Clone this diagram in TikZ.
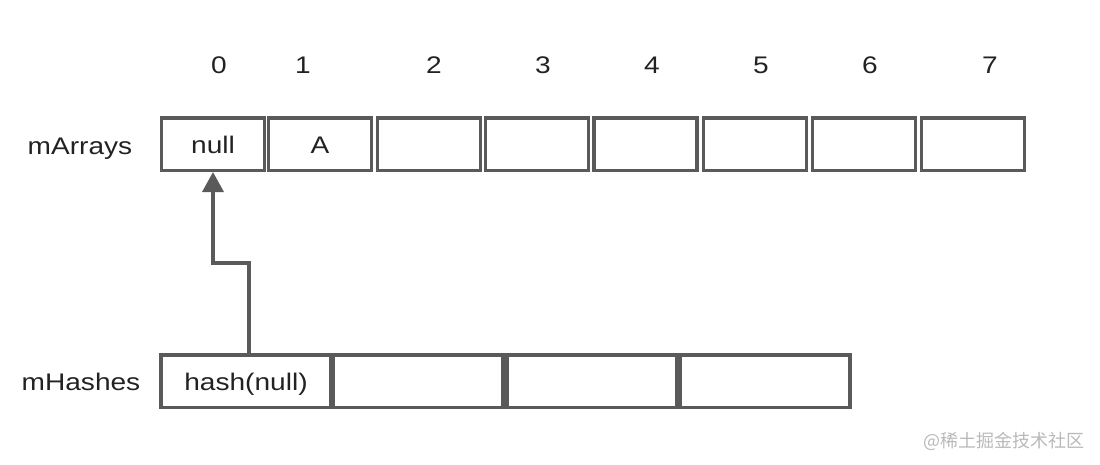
\documentclass[tikz,border=0pt]{standalone}
\usepackage{fontspec}
\setmainfont{Liberation Sans}[FakeStretch=1.17]
\newfontfamily\cjk{Noto Sans CJK SC}
\usetikzlibrary{arrows.meta}
\definecolor{trait}{HTML}{5A5A5A}
\definecolor{texte}{HTML}{222222}
\begin{document}
\begin{tikzpicture}[x=1pt, y=-1pt,
    case/.style={draw=trait, line width=3.5pt, minimum height=52.5pt, inner sep=0pt,
        text=texte, font=\fontsize{24}{28}\selectfont, text height=19pt, text depth=0pt},
    etiq/.style={text=texte, font=\fontsize{24}{28}\selectfont, anchor=base, inner sep=0pt},
    fleche/.style={draw=trait, line width=3.5pt, -{Triangle[width=21pt,length=20pt]}}]
    \useasboundingbox (0,0) rectangle (1100,464);

    % Indices du tableau
    \foreach \i/\x in {0/219,1/303,2/434,3/543,4/652,5/761,6/870,7/990}
        \node[etiq] (n\i) at (\x,73) {\i};

    % Tableau mArrays
    \node[etiq] (marrays) at (80,154) {mArrays};
    \node[case, minimum width=103pt] (a0) at (213,144) {null};
    \node[case, minimum width=103pt] (a1) at (320,144) {A};
    \foreach \i/\x in {2/429,3/537,4/645.5,5/755,6/864,7/973}
        \node[case, minimum width=103pt] (a\i) at (\x,144) {};

    % Tableau mHashes
    \node[etiq] (mhashes) at (81,390) {mHashes};
    \node[case, minimum width=170pt] (h0) at (246,381) {hash(null)};
    \foreach \i/\x in {1/418,2/592,3/765}
        \node[case, minimum width=170pt] (h\i) at (\x,381) {};

    % Lien de hash(null) vers null
    \coordinate (coude) at (249,263);
    \draw[fleche] (h0.north -| coude) -- (coude) -| (a0.south);

    % Filigrane
    \node[text=gray!55, font=\cjk\fontsize{18}{20}\selectfont, anchor=base] (marque) at (1004,447) {@稀土掘金技术社区};
\end{tikzpicture}
\end{document}
